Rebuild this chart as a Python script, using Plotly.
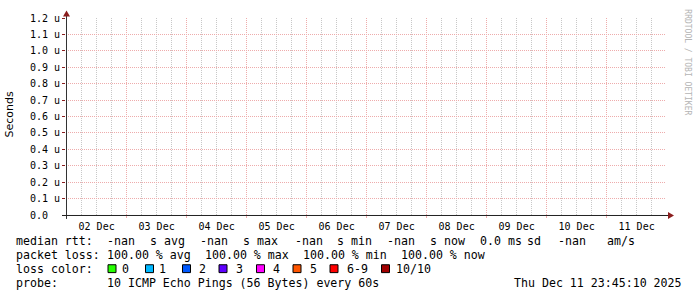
import plotly.graph_objects as go
from datetime import datetime, timedelta

# ---------------- data ----------------
end_time = datetime(2025, 12, 11, 23, 45, 10)
start_time = end_time - timedelta(days=10)
rtt_times = []          # no samples: every probe lost (all -nan)
rtt_median = []

ytick_vals = [0.0, 0.1e-6, 0.2e-6, 0.3e-6, 0.4e-6, 0.5e-6, 0.6e-6,
              0.7e-6, 0.8e-6, 0.9e-6, 1.0e-6, 1.1e-6, 1.2e-6]
ytick_text = ["0.0\u00a0\u00a0", "0.1 u", "0.2 u", "0.3 u", "0.4 u", "0.5 u", "0.6 u",
              "0.7 u", "0.8 u", "0.9 u", "1.0 u", "1.1 u", "1.2 u"]

rtt_stats = ["-nan", "-nan", "-nan", "-nan", "0.0 ms", "-nan"]
rtt_stat_names = ["s avg", "s max", "s min", "s now", "sd", "am/s"]
loss_stats = ["100.00", "100.00", "100.00", "100.00"]
loss_stat_names = ["avg", "max", "min", "now"]
loss_labels = ["0", "1", "2", "3", "4", "5", "6-9", "10/10"]
loss_colors = ["#26ff00", "#00b8ff", "#0059ff", "#5e00ff", "#ff00ff", "#ff5500", "#ff0000", "#a10000"]
probe_text = "10 ICMP Echo Pings (56 Bytes) every 60s"
stamp_text = "Thu Dec 11 23:45:10 2025"

# ---------------- geometry helpers ----------------
W, H = 697, 297
PL, PR, PT, PB = 66, 666, 15, 215


def px(x):
    return (x - PL) / (PR - PL)


def py(y):
    return (PB - y) / (PB - PT)


MONO = "DejaVu Sans Mono"
LEG = 11.6

fig = go.Figure()
fig.add_trace(go.Scatter(x=rtt_times, y=rtt_median, mode="lines",
                         line=dict(color="#26ff00", width=1), showlegend=False))

pink = "rgb(238,172,172)"
gray = "rgb(200,200,200)"

fig.update_layout(
    width=W, height=H,
    margin=dict(l=PL, r=W - PR, t=PT, b=H - PB, pad=0),
    paper_bgcolor="white", plot_bgcolor="white",
    showlegend=False,
    xaxis=dict(
        type="date",
        range=[start_time, end_time],
        tick0="2025-12-02 00:00:00", dtick=86400000,
        ticklabelmode="period", tickformat="%d %b",
        tickfont=dict(family=MONO, size=10, color="black"),
        showgrid=True, gridcolor=pink, griddash="1px,1px", gridwidth=1,
        ticks="outside", ticklen=2, tickcolor=pink,
        minor=dict(dtick=6 * 3600000, tick0="2025-12-02 00:00:00",
                   showgrid=True, gridcolor=gray, griddash="1px,1px", ticks=""),
        zeroline=False, showline=False,
    ),
    yaxis=dict(
        range=[0, 1.2e-6],
        tickvals=ytick_vals, ticktext=ytick_text,
        tickfont=dict(family=MONO, size=10, color="black"),
        showgrid=True, gridcolor=pink, griddash="1px,1px", gridwidth=1,
        ticks="outside", ticklen=3, tickcolor="#8b1e1e",
        zeroline=False, showline=False,
    ),
)

shapes = []
# axes
shapes.append(dict(type="line", xref="paper", yref="paper",
                   x0=px(66.5), x1=px(66.5), y0=py(219), y1=py(11),
                   line=dict(color="#333333", width=1)))
shapes.append(dict(type="line", xref="paper", yref="paper",
                   x0=px(62), x1=px(669), y0=py(215.5), y1=py(215.5),
                   line=dict(color="#222222", width=1)))
# arrows
shapes.append(dict(type="path", xref="paper", yref="paper",
                   path=f"M {px(66.5)} {py(7.5)} L {px(63)} {py(13.5)} L {px(70)} {py(13.5)} Z",
                   fillcolor="#8b1e1e", line=dict(width=0)))
shapes.append(dict(type="path", xref="paper", yref="paper",
                   path=f"M {px(674)} {py(215.5)} L {px(668)} {py(212)} L {px(668)} {py(219)} Z",
                   fillcolor="#8b1e1e", line=dict(width=0)))

annotations = []


def text(x, y, s, size=LEG, family=MONO, color="black", **kw):
    annotations.append(dict(xref="paper", yref="paper", x=px(x), y=py(y), text=s,
                            showarrow=False, xanchor=kw.pop("xanchor", "left"),
                            yanchor=kw.pop("yanchor", "middle"), borderpad=0,
                            font=dict(family=family, size=size, color=color), **kw))


# line 1 : median rtt
Y1, Y2, Y3, Y4 = 241, 255.5, 269.5, 284
text(15, Y1, "median rtt:")
rtt_x = [106, 199, 294, 386, 479, 557]
name_x = [149, 242, 336, 429, 526, 606]
for v, n, xv, xn in zip(rtt_stats, rtt_stat_names, rtt_x, name_x):
    text(xv, Y1, v)
    text(xn, Y1, n)

# line 2 : packet loss (monospace grid, 7 px per character)
text(15, Y2, "packet loss:")
lv_x = [106, 204, 302, 400]
for v, n, xv in zip(loss_stats, loss_stat_names, lv_x):
    text(xv, Y2, v + " % " + n)

# line 3 : loss colors
text(15, Y3, "loss color:")
sq_x = [108, 145.5, 182.5, 219, 256.5, 293, 330, 381.5]
lab_x = [120.5, 158, 197.5, 235.5, 272, 309, 345.5, 395]
for lab, col, sx, lx in zip(loss_labels, loss_colors, sq_x, lab_x):
    shapes.append(dict(type="rect", xref="paper", yref="paper",
                       x0=px(sx), x1=px(sx + 8), y0=py(265.5), y1=py(273.5),
                       fillcolor=col, line=dict(color="#000000", width=1)))
    text(lx, Y3, lab)

# line 4 : probe
text(15, Y4, "probe:")
text(106, Y4, probe_text)
text(513, Y4, stamp_text)

# y-axis title
text(10, 113, "Seconds", size=11, family="DejaVu Sans", textangle=-90, xanchor="center")
# watermark
text(688, 60, "RRDTOOL / TOBI OETIKER", size=8, color="#b4b4b4", textangle=90, xanchor="center")

fig.update_layout(shapes=shapes, annotations=annotations)
fig.write_html("out.html")
